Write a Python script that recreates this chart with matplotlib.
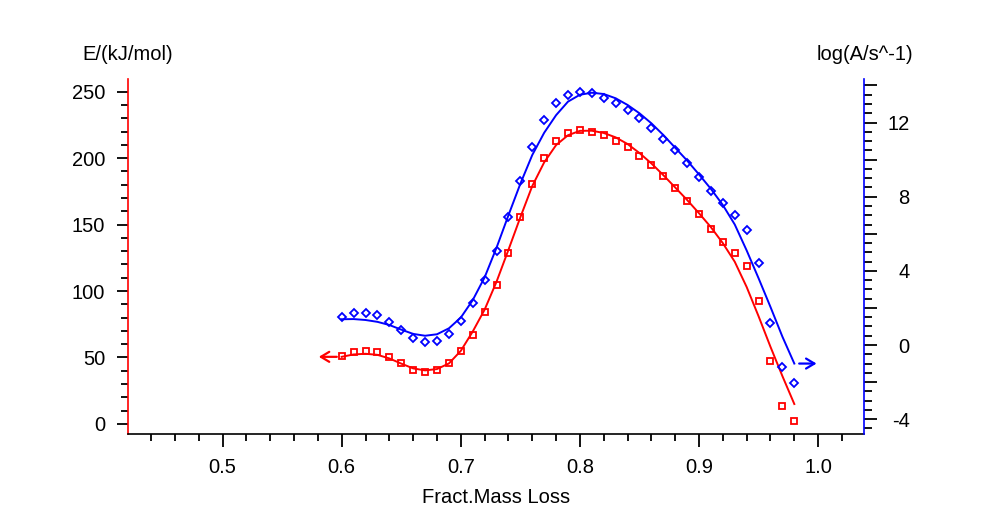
import matplotlib
matplotlib.use("Agg")
import matplotlib.pyplot as plt
from matplotlib.ticker import MultipleLocator, FuncFormatter
from matplotlib.transforms import ScaledTranslation

# fractional mass loss (shared x)
mass_loss = [0.60, 0.61, 0.62, 0.63, 0.64, 0.65, 0.66, 0.67, 0.68, 0.69,
             0.70, 0.71, 0.72, 0.73, 0.74, 0.75, 0.76, 0.77, 0.78, 0.79,
             0.80, 0.81, 0.82, 0.83, 0.84, 0.85, 0.86, 0.87, 0.88, 0.89,
             0.90, 0.91, 0.92, 0.93, 0.94, 0.95, 0.96, 0.97, 0.98]

# activation energy, kJ/mol (red squares) and its smoothed curve
E_points = [51.3, 53.8, 55.0, 53.8, 50.0, 45.6, 40.8, 39.1, 40.6, 45.6,
            54.6, 67.0, 84.0, 104.4, 128.6, 155.7, 180.4, 200.3, 212.5, 218.6,
            220.9, 219.8, 217.1, 213.1, 208.1, 201.5, 194.5, 186.4, 177.6, 167.8,
            157.7, 146.9, 137.2, 128.8, 118.5, 92.8, 47.1, 13.7, 2.0]
E_curve = [50.5, 52.3, 52.8, 52.0, 49.3, 45.4, 41.8, 40.3, 41.3, 45.5,
           55.0, 69.5, 86.0, 107.0, 131.0, 155.5, 179.0, 196.8, 209.8, 217.2,
           220.5, 220.6, 218.9, 215.6, 210.6, 203.8, 196.0, 187.2, 177.9, 168.5,
           158.5, 148.0, 136.0, 122.0, 103.0, 81.0, 58.0, 36.0, 15.0]

# log pre-exponential factor (blue diamonds) and its smoothed curve
logA_points = [1.53, 1.71, 1.75, 1.63, 1.26, 0.83, 0.38, 0.16, 0.23, 0.62,
               1.31, 2.25, 3.53, 5.07, 6.89, 8.86, 10.69, 12.14, 13.07, 13.50,
               13.63, 13.58, 13.34, 13.05, 12.69, 12.23, 11.70, 11.13, 10.52, 9.80,
               9.06, 8.31, 7.64, 7.02, 6.21, 4.43, 1.21, -1.17, -2.03]
logA_curve = [1.39, 1.40, 1.35, 1.25, 1.08, 0.83, 0.60, 0.50, 0.58, 0.90,
              1.48, 2.42, 3.65, 5.25, 7.00, 8.70, 10.25, 11.45, 12.40, 13.13,
              13.50, 13.61, 13.54, 13.31, 12.95, 12.50, 11.96, 11.33, 10.64, 9.95,
              9.20, 8.42, 7.55, 6.50, 5.10, 3.60, 2.05, 0.45, -1.00]

plt.rcParams["font.family"] = ["Liberation Sans", "DejaVu Sans"]
plt.rcParams["axes.unicode_minus"] = False
FS = 14.5

fig = plt.figure(figsize=(9.88, 5.09), dpi=100)
ax = fig.add_axes([128 / 988, 75 / 509, 736 / 988, 355 / 509])
ax2 = ax.twinx()

ax.plot(mass_loss, E_curve, color="red", lw=1.4)
ax.plot(mass_loss, E_points, ls="none", marker="s", ms=4.2, mfc="none",
        mec="red", mew=1.3)
ax2.plot(mass_loss, logA_curve, color="blue", lw=1.4)
ax2.plot(mass_loss, logA_points, ls="none", marker="D", ms=3.9, mfc="none",
         mec="blue", mew=1.3)

ax.set_xlim(0.4206, 1.0385)
ax.set_ylim(-7.55, 259.5)
ax2.set_ylim(-4.80, 14.35)

# arrows telling which axis belongs to which curve
def shifted(a, dx):
    return a.transData + ScaledTranslation(dx / 72, 0, fig.dpi_scale_trans)

ax.annotate("", xy=(mass_loss[0], E_curve[0]), xycoords=shifted(ax, -16.5),
            xytext=(mass_loss[0], E_curve[0]), textcoords=shifted(ax, -3.5),
            arrowprops=dict(arrowstyle="->,head_length=0.5,head_width=0.3",
                            color="red", lw=1.6, shrinkA=0, shrinkB=0,
                            mutation_scale=12))
ax2.annotate("", xy=(mass_loss[-1], logA_curve[-1]), xycoords=shifted(ax2, 16),
             xytext=(mass_loss[-1], logA_curve[-1]), textcoords=shifted(ax2, 3.5),
             arrowprops=dict(arrowstyle="->,head_length=0.5,head_width=0.3",
                             color="blue", lw=1.6, shrinkA=0, shrinkB=0,
                             mutation_scale=12))

for s in ["top", "right"]:
    ax.spines[s].set_visible(False)
for s in ["top", "left", "bottom"]:
    ax2.spines[s].set_visible(False)
ax.spines["left"].set_color("red")
ax.spines["bottom"].set_color("black")
ax2.spines["right"].set_color("blue")
for sp in [ax.spines["left"], ax.spines["bottom"], ax2.spines["right"]]:
    sp.set_linewidth(1.2)

ax.xaxis.set_major_locator(MultipleLocator(0.1))
ax.xaxis.set_minor_locator(MultipleLocator(0.02))
ax.xaxis.set_major_formatter(FuncFormatter(lambda v, p: f"{v:.1f}"))
ax.yaxis.set_major_locator(MultipleLocator(50))
ax.yaxis.set_minor_locator(MultipleLocator(10))
ax2.yaxis.set_major_locator(MultipleLocator(2))
ax2.yaxis.set_minor_locator(MultipleLocator(0.5))
ax2.yaxis.set_major_formatter(
    FuncFormatter(lambda v, p: f"{v:.0f}" if round(v) % 4 == 0 else ""))

ax.tick_params(axis="x", which="major", length=9, width=1.3, pad=8.5, labelsize=FS)
ax.tick_params(axis="x", which="minor", length=5, width=1.3)
ax.tick_params(axis="y", which="major", length=8, width=1.3, pad=8.5, labelsize=FS)
ax.tick_params(axis="y", which="minor", length=5, width=1.3)
ax2.tick_params(axis="y", which="major", length=9, width=1.3, pad=24, labelsize=FS)
ax2.tick_params(axis="y", which="minor", length=5.5, width=1.3)
plt.setp(ax2.get_yticklabels(), ha="right")

ax.set_xlabel("Fract.Mass Loss", fontsize=FS, labelpad=8)
fig.text(82 / 988, 1 - 54 / 509, "E/(kJ/mol)", ha="left", va="center", fontsize=FS)
fig.text(913 / 988, 1 - 54 / 509, "log(A/s^-1)", ha="right", va="center", fontsize=FS)

fig.savefig("out.png", dpi=100)
